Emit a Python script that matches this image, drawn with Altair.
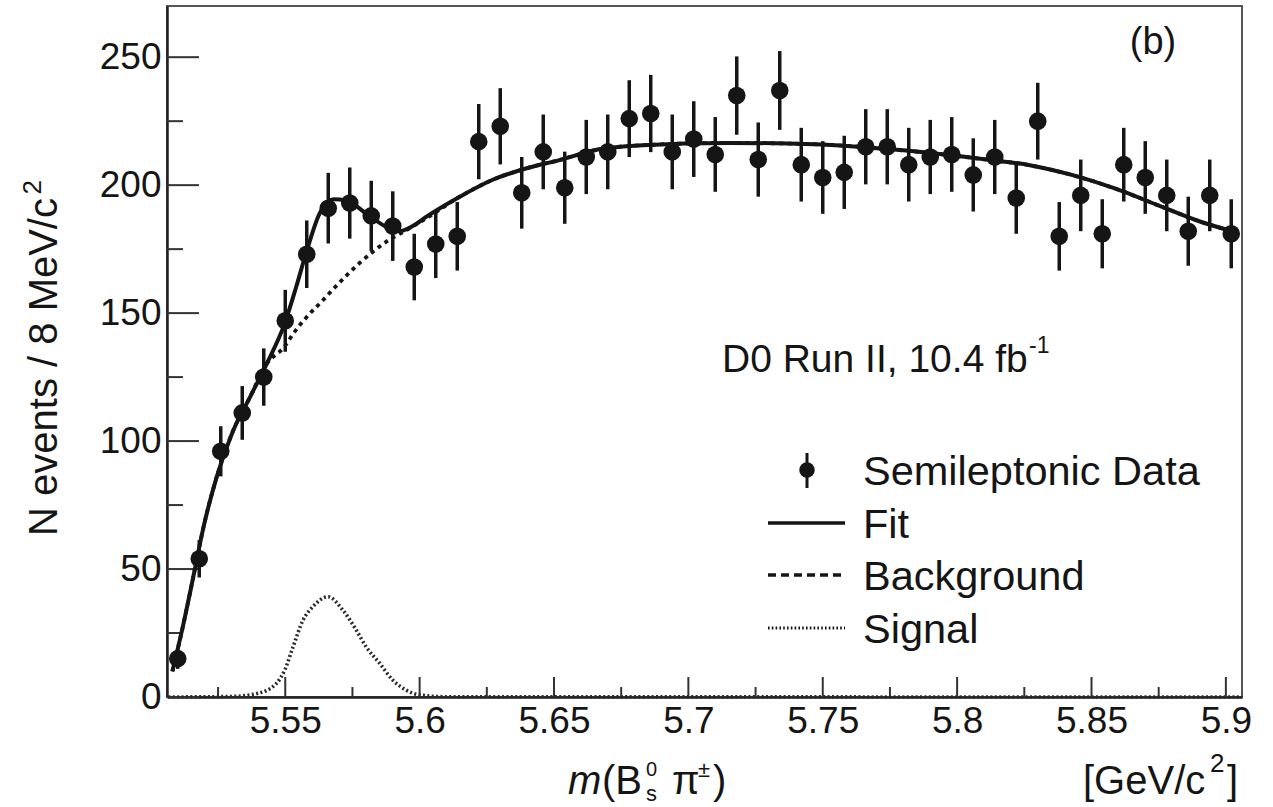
import altair as alt
import pandas as pd

# ---------------- data ----------------
bin_centers = [5.510, 5.518, 5.526, 5.534, 5.542, 5.550, 5.558, 5.566, 5.574, 5.582,
               5.590, 5.598, 5.606, 5.614, 5.622, 5.630, 5.638, 5.646, 5.654, 5.662,
               5.670, 5.678, 5.686, 5.694, 5.702, 5.710, 5.718, 5.726, 5.734, 5.742,
               5.750, 5.758, 5.766, 5.774, 5.782, 5.790, 5.798, 5.806, 5.814, 5.822,
               5.830, 5.838, 5.846, 5.854, 5.862, 5.870, 5.878, 5.886, 5.894, 5.902]
counts = [15, 54, 96, 111, 125, 147, 173, 191, 193, 188,
          184, 168, 177, 180, 217, 223, 197, 213, 199, 211,
          213, 226, 228, 213, 218, 212, 235, 210, 237, 208,
          203, 205, 215, 215, 208, 211, 212, 204, 211, 195,
          225, 180, 196, 181, 208, 203, 196, 182, 196, 181]
errors = [4, 7.3, 9.8, 10.5, 11.2, 12.1, 13.2, 13.8, 13.9, 13.7,
          13.6, 13.0, 13.3, 13.4, 14.7, 14.9, 14.0, 14.6, 14.1, 14.5,
          14.6, 15.0, 15.1, 14.6, 14.8, 14.6, 15.3, 14.5, 15.4, 14.4,
          14.2, 14.3, 14.7, 14.7, 14.4, 14.5, 14.6, 14.3, 14.5, 14.0,
          15.0, 13.4, 14.0, 13.5, 14.4, 14.2, 14.0, 13.5, 14.0, 13.5]

fit_x = [5.5080, 5.5120, 5.5158, 5.5195, 5.5245, 5.5306, 5.5368, 5.5430, 5.5498,
         5.5540, 5.5579, 5.5628, 5.5680, 5.5727, 5.5800, 5.5876, 5.5925, 5.5974,
         5.6024, 5.6148, 5.6270, 5.6395, 5.6520, 5.6667, 5.6830, 5.7146, 5.7467,
         5.7787, 5.8110, 5.8270, 5.8430, 5.8587, 5.8746, 5.8906, 5.9040]
fit_y = [10, 28, 47, 66, 86, 104, 117, 130, 146,
         160, 174, 189, 194.5, 194, 189, 183.7, 182, 184,
         187.6, 195.4, 202, 206.5, 209.8, 214, 215.6, 216.5, 216,
         213.7, 210, 207.8, 203.9, 198.7, 192.2, 185.7, 181.5]

bkg_x = [5.5080, 5.5120, 5.5158, 5.5195, 5.5245, 5.5306, 5.5368, 5.5430, 5.5498,
         5.5530, 5.5580, 5.5640, 5.5684, 5.5776, 5.5876, 5.5950, 5.6024,
         5.6148, 5.6270, 5.6395, 5.6520, 5.6667, 5.6830, 5.7146, 5.7467,
         5.7787, 5.8110, 5.8270, 5.8430, 5.8587, 5.8746, 5.8906, 5.9040]
bkg_y = [10, 28, 47, 66, 86, 104, 117, 130, 137,
         142, 148.5, 155, 160, 169.5, 177.9, 182.4, 187,
         195.4, 202, 206.5, 209.8, 214, 215.6, 216.5, 216,
         213.7, 210, 207.8, 203.9, 198.7, 192.2, 185.7, 181.5]

sig_x = [5.5065, 5.5300, 5.5400, 5.5467, 5.5498, 5.5529, 5.5566, 5.5603, 5.5659,
         5.5714, 5.5764, 5.5801, 5.5851, 5.5900, 5.5950, 5.6000, 5.6100, 5.9060]
sig_y = [0, 0.2, 1.5, 5.3, 10.5, 19.6, 30, 35.3, 39.2,
         34, 26.2, 19.6, 13.2, 6.6, 2.7, 0.8, 0.1, 0]

x_major = [5.55, 5.60, 5.65, 5.70, 5.75, 5.80, 5.85, 5.90]
x_minor = [5.525, 5.575, 5.625, 5.675, 5.725, 5.775, 5.825, 5.875]
y_major = [0, 50, 100, 150, 200, 250]
y_minor = [25, 75, 125, 175, 225]

# ---------------- styling ----------------
FONT = "Liberation Sans"
INK = "#151515"
W, H = 1075, 691
xs = alt.Scale(domain=[5.506, 5.906], nice=False, zero=False)
ys = alt.Scale(domain=[0, 270], nice=False, zero=False)
xaxis = alt.Axis(values=x_major, format=".3~g", title=None)
yaxis = alt.Axis(values=y_major, title=None)


def X(field="x"):
    return alt.X(f"{field}:Q", scale=xs, axis=xaxis)


def Y(field="y"):
    return alt.Y(f"{field}:Q", scale=ys, axis=yaxis)


data = pd.DataFrame({"x": bin_centers, "y": counts, "e": errors})
data["lo"] = data["y"] - data["e"]
data["hi"] = data["y"] + data["e"]
fit = pd.DataFrame({"x": fit_x, "y": fit_y})
bkg = pd.DataFrame({"x": bkg_x, "y": bkg_y})
sig = pd.DataFrame({"x": sig_x, "y": sig_y})

bars = alt.Chart(data).mark_rule(color=INK, strokeWidth=3.5).encode(
    x=X(), y=Y("lo"), y2="hi:Q")
pts = alt.Chart(data).mark_point(filled=True, color=INK, opacity=1, size=310).encode(
    x=X(), y=Y())
bkg_line = alt.Chart(bkg).mark_line(color=INK, strokeWidth=3.8, strokeDash=[4, 4.5],
                                    interpolate="monotone").encode(x=X(), y=Y())
fit_line = alt.Chart(fit).mark_line(color=INK, strokeWidth=4,
                                    interpolate="monotone").encode(x=X(), y=Y())
sig_line = alt.Chart(sig).mark_line(color="#2a2a2a", strokeWidth=3.6, strokeDash=[2, 2.4],
                                    interpolate="monotone").encode(x=X(), y=Y())

# inward tick marks
ytm = alt.Chart(pd.DataFrame({"y": y_major})).mark_rule(color="#333", strokeWidth=2).encode(
    y=Y(), x=alt.value(0), x2=alt.value(32))
ytn = alt.Chart(pd.DataFrame({"y": y_minor})).mark_rule(color="#333", strokeWidth=2).encode(
    y=Y(), x=alt.value(0), x2=alt.value(16))
xtm = alt.Chart(pd.DataFrame({"x": x_major})).mark_rule(color="#333", strokeWidth=2).encode(
    x=X(), y=alt.value(H), y2=alt.value(H - 20))
xtn = alt.Chart(pd.DataFrame({"x": x_minor})).mark_rule(color="#333", strokeWidth=2).encode(
    x=X(), y=alt.value(H), y2=alt.value(H - 10))

one = pd.DataFrame({"a": [0]})


def txt(text, x, y, size, align="left", baseline="alphabetic", angle=0, italic=False):
    kw = dict(text=text, font=FONT, fontSize=size, align=align, baseline=baseline,
              color=INK, fontStyle="italic" if italic else "normal")
    if angle:
        kw["angle"] = angle
    return alt.Chart(one).mark_text(**kw).encode(x=alt.value(x), y=alt.value(y))


def hline(x1, x2, y, dash=None, width=3.5):
    kw = dict(color=INK, strokeWidth=width)
    if dash:
        kw["strokeDash"] = dash
    return alt.Chart(one).mark_rule(**kw).encode(x=alt.value(x1), x2=alt.value(x2), y=alt.value(y))


annotations = [
    txt("(b)", 986, 37, 38, align="center", baseline="middle"),
    txt("D0 Run II, 10.4 fb", 555, 366, 39),
    txt("-1", 862, 347, 23),
    # legend
    alt.Chart(one).mark_point(filled=True, color=INK, opacity=1, size=240).encode(
        x=alt.value(640), y=alt.value(464)),
    alt.Chart(one).mark_rule(color=INK, strokeWidth=3).encode(
        x=alt.value(640), y=alt.value(447), y2=alt.value(482)),
    txt("Semileptonic Data", 696, 479, 41.5),
    hline(601, 678, 517),
    txt("Fit", 696, 532, 41.5),
    hline(601, 678, 569, dash=[8, 5]),
    txt("Background", 696, 584, 41.5),
    hline(601, 678, 622, dash=[1.6, 2.2], width=3),
    txt("Signal", 696, 637, 41.5),
    # axis titles
    txt("N events / 8 MeV/c", -110, 192, 40, align="right", angle=270),
    txt("2", -126, 174, 26, align="right", angle=270),
    txt("m", 401, 788, 40, italic=True),
    txt("(B", 435, 788, 40),
    txt("0", 479, 770, 20),
    txt("s", 479, 795, 22),
    txt("π", 505, 788, 40),
    txt("±", 531, 771, 22),
    txt(")", 546, 788, 40),
    txt("[GeV/c", 916, 788, 40),
    txt("2", 1043, 766, 26),
    txt("]", 1060, 788, 40),
]

chart = alt.layer(
    ytm, ytn, xtm, xtn, sig_line, bkg_line, fit_line, bars, pts, *annotations
).properties(
    width=W, height=H,
    autosize=alt.AutoSizeParams(type="none"),
    padding={"left": 167, "top": 6, "right": 31, "bottom": 110},
    background="white",
).configure_view(
    stroke="#555", strokeWidth=2
).configure_axis(
    labelFont=FONT, labelFontSize=37, labelColor=INK,
    domainColor="#222", domainWidth=2.5, ticks=False, tickSize=0,
    grid=False, labelPadding=6, labelFlush=False, labelOverlap=False,
)

chart.save("out.html", embed_options={"renderer": "svg", "actions": False})
